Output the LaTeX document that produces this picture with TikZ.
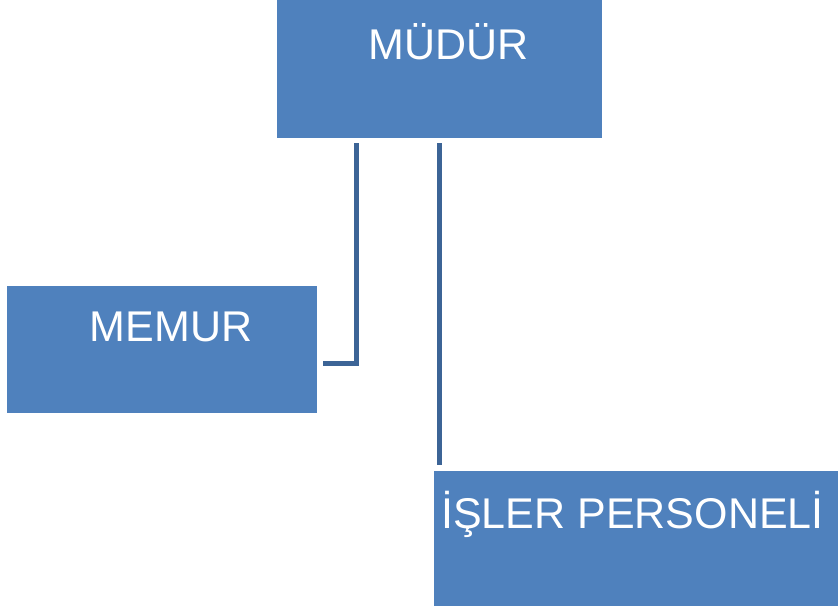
\documentclass[tikz,border=0pt]{standalone}
\usepackage{fontspec}
\setmainfont{Liberation Sans}
\usepackage{tikz}
\usetikzlibrary{calc, positioning}
\definecolor{boxblue}{RGB}{79,129,189}
\definecolor{lineblue}{RGB}{60,100,150}

\begin{document}
\begin{tikzpicture}[x=1pt,y=1pt,
		box/.style={rectangle, fill=boxblue, inner sep=0pt},
		boxtext/.style={anchor=base, text=white, inner sep=0pt, font=\fontsize{43}{50}\selectfont},
		conn/.style={draw=lineblue, line width=5pt}]
			\useasboundingbox (0,0) rectangle (838,-612);
			\node[box, minimum width=325pt, minimum height=138pt] (mudur) at (439.5,-69) {};
			\node[box, minimum width=310pt, minimum height=127pt] (memur) at (162,-349.5) {};
			\node[box, minimum width=404pt, minimum height=135pt] (isler) at (636,-538.5) {};
			\node[boxtext] (mudurtxt) at ($(mudur.north)+(9,-60)$) {MÜDÜR};
			\node[boxtext] (memurtxt) at ($(memur.north)+(9,-56)$) {MEMUR};
			\node[boxtext] (islertxt) at ($(isler.north)+(-3.5,-58)$) {İŞLER PERSONELİ};
			% connectors
			\coordinate (memurend) at ($(memur.east)+(6,-13.5)$);
			\path[conn]
				([xshift=-83.5pt,yshift=-5pt]mudur.south) |- (memurend)
				([yshift=-5pt]mudur.south) -- ([yshift=6pt]mudur.south |- isler.north);
		\end{tikzpicture}
\end{document}
